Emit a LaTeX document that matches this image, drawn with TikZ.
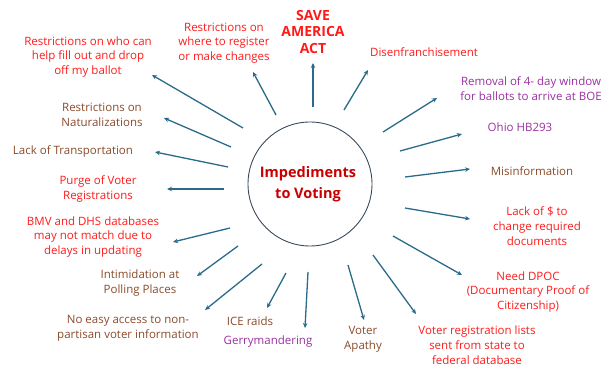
\documentclass[tikz,border=0pt]{standalone}
\usepackage{fontspec}
\setmainfont{Open Sans}
\usepackage{xcolor}
\definecolor{txtred}{HTML}{FF1A1A}
\definecolor{txtbrown}{HTML}{8A4A2A}
\definecolor{txtpurple}{HTML}{9A30A0}
\definecolor{hubred}{HTML}{C80000}
\definecolor{spokeblue}{HTML}{2A6A8A}
\definecolor{ringgray}{HTML}{3A4A5A}

\tikzset{
    lbl/.style={align=center, inner sep=0pt, font=\fontsize{11.5}{14.8}\selectfont},
    redlbl/.style={lbl, text=txtred},
    brownlbl/.style={lbl, text=txtbrown},
    purplelbl/.style={lbl, text=txtpurple},
    spoke/.style={draw=spokeblue, line width=1.3pt, -{Stealth[length=5pt,width=4.5pt]}}
}
\usetikzlibrary{arrows.meta}

\begin{document}
\begin{tikzpicture}[x=1pt, y=-1pt]
        \useasboundingbox (0,0) rectangle (608,366);

        % hub
        \node[draw=ringgray, line width=0.9pt, circle, minimum size=124pt] (hub) at (310,184) {};
        \node[align=center, text=hubred, font=\bfseries\fontsize{14.5}{21}\selectfont] (hubtxt) at (308,184) {Impediments\\to Voting};

        % labels round the hub
        \node[redlbl] (helpers) at (88,57) {Restrictions on who can\\help fill out and drop\\off my ballot};
        \node[redlbl] (where) at (224,43) {Restrictions  on\\where to register\\or make changes};
        \node[lbl, text=txtred, font=\bfseries\fontsize{14}{16.5}\selectfont] (save) at (313,32) {SAVE\\AMERICA\\ACT};
        \node[redlbl] (disen) at (424,52) {Disenfranchisement};
        \node[purplelbl] (window) at (531,89) {Removal of 4- day window\\for ballots to arrive at BOE};
        \node[purplelbl] (ohio) at (520,127) {Ohio HB293};
        \node[brownlbl] (misinfo) at (532,171) {Misinformation};
        \node[redlbl] (money) at (537,226) {Lack of \$ to\\change required\\documents};
        \node[redlbl] (dpoc) at (528,292) {Need DPOC\\(Documentary Proof of\\Citizenship)};
        \node[redlbl] (lists) at (477,345) {Voter registration lists\\sent from state to\\federal database};
        \node[brownlbl] (apathy) at (363,339) {Voter\\Apathy};
        \node[purplelbl] (gerry) at (268,342) {Gerrymandering};
        \node[brownlbl] (ice) at (250,321) {ICE raids};
        \node[brownlbl] (access) at (128,328) {No easy access to non-\\partisan voter information};
        \node[brownlbl] (intim) at (140,283) {Intimidation at\\Polling Places};
        \node[redlbl] (bmv) at (93,237) {BMV and DHS databases\\may not match due to\\delays in updating};
        \node[redlbl] (purge) at (98,189) {Purge of Voter\\Registrations};
        \node[brownlbl] (transport) at (73,151) {Lack of Transportation};
        \node[brownlbl] (natural) at (102,115) {Restrictions on\\Naturalizations};

        % spokes
        \foreach \n/\sx/\sy/\ex/\ey in {
            helpers/243/128/152/75, where/276/115/253/72, save/313/107/313/63,
            disen/344/110/368/70, window/383/132/437/98, ohio/400/151/462/134,
            misinfo/405/177/470/169, money/405/208/470/219, dpoc/393/236/462/275,
            lists/373/255/416/314, apathy/348/265/364/320, gerry/308/272/305/328,
            ice/286/273/267/308, access/262/264/205/310, intim/238/246/197/276,
            bmv/230/228/173/242, purge/224/189/167/189, transport/228/167/155/152,
            natural/231/147/164/118} {
            \coordinate (s-\n) at (\sx,\sy);
            \coordinate (e-\n) at (\ex,\ey);
            \draw[spoke] (s-\n) -- (e-\n);
        }
    \end{tikzpicture}
\end{document}
